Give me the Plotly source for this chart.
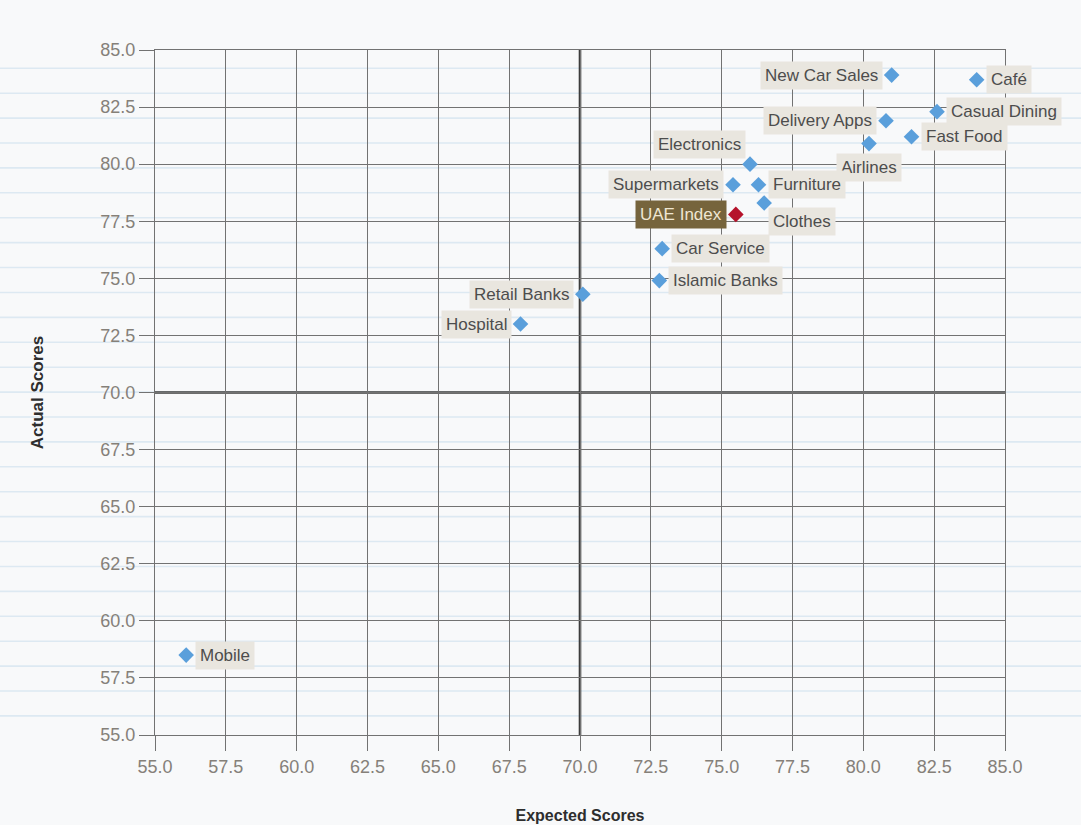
import plotly.graph_objects as go

# Customer satisfaction by sector: expected vs. actual scores
segments = ["New Car Sales", "Café", "Delivery Apps", "Casual Dining", "Airlines",
            "Fast Food", "Electronics", "Supermarkets", "Furniture", "UAE Index",
            "Clothes", "Car Service", "Islamic Banks", "Retail Banks", "Hospital",
            "Mobile"]
expected = [81.0, 84.0, 80.8, 82.6, 80.2, 81.7, 76.0, 75.4, 76.3, 75.5,
            76.5, 72.9, 72.8, 70.1, 67.9, 56.1]
actual = [83.9, 83.7, 81.9, 82.3, 80.9, 81.2, 80.0, 79.1, 79.1, 77.8,
          78.3, 76.3, 74.9, 74.3, 73.0, 58.5]

axis_ticks = [55.0, 57.5, 60.0, 62.5, 65.0, 67.5, 70.0, 72.5, 75.0, 77.5, 80.0, 82.5, 85.0]
divider = 70.0
highlight = "UAE Index"

# where each label sits relative to its marker
placement = {
    "New Car Sales": "left", "Café": "right", "Delivery Apps": "left",
    "Casual Dining": "right", "Airlines": "below", "Fast Food": "right",
    "Electronics": "upleft", "Supermarkets": "left", "Furniture": "right",
    "UAE Index": "left", "Clothes": "downright", "Car Service": "right",
    "Islamic Banks": "right", "Retail Banks": "left", "Hospital": "left",
    "Mobile": "right",
}

FONT = "Liberation Sans, Arial, sans-serif"
BLUE = "#5a9fdb"
RED = "#b5122b"
GRID = "#727272"
TICK_TXT = "#858079"
LABEL_BG = "#e9e6df"
LABEL_TXT = "#4d4d4d"

fig = go.Figure()

others = [i for i, s in enumerate(segments) if s != highlight]
hi = [i for i, s in enumerate(segments) if s == highlight]

fig.add_trace(go.Scatter(
    x=[expected[i] for i in others], y=[actual[i] for i in others],
    mode="markers", text=[segments[i] for i in others],
    marker=dict(symbol="diamond", size=12, color=BLUE),
    hovertemplate="%{text}<br>Expected: %{x}<br>Actual: %{y}<extra></extra>",
    showlegend=False, cliponaxis=False,
))
fig.add_trace(go.Scatter(
    x=[expected[i] for i in hi], y=[actual[i] for i in hi],
    mode="markers", text=[segments[i] for i in hi],
    marker=dict(symbol="diamond", size=12, color=RED),
    hovertemplate="%{text}<br>Expected: %{x}<br>Actual: %{y}<extra></extra>",
    showlegend=False, cliponaxis=False,
))

anchors = {
    "left": dict(xanchor="right", yanchor="middle", xshift=-9, yshift=0),
    "right": dict(xanchor="left", yanchor="middle", xshift=9, yshift=0),
    "below": dict(xanchor="center", yanchor="top", xshift=0, yshift=-9),
    "upleft": dict(xanchor="right", yanchor="bottom", xshift=-4, yshift=5),
    "downright": dict(xanchor="left", yanchor="top", xshift=4, yshift=-4),
}

for s, x, y in zip(segments, expected, actual):
    is_hi = s == highlight
    fig.add_annotation(
        x=x, y=y, text=s, showarrow=False,
        font=dict(family=FONT, size=17, color="#efe6d2" if is_hi else LABEL_TXT),
        bgcolor="#76643c" if is_hi else LABEL_BG,
        borderpad=4,
        **anchors[placement[s]],
    )

# heavier divider lines through the 70 / 70 point
fig.add_shape(type="line", xref="x", yref="y", x0=divider, x1=divider,
              y0=axis_ticks[0], y1=axis_ticks[-1],
              line=dict(color="#3c3c3c", width=2.6), layer="below")
fig.add_shape(type="line", xref="x", yref="y", y0=divider, y1=divider,
              x0=axis_ticks[0], x1=axis_ticks[-1],
              line=dict(color="#3c3c3c", width=2.6), layer="below")

# faint ruled-paper background lines
for k in range(27):
    yp = 1 - (22 + 30 * k) / 825
    fig.add_shape(type="line", xref="paper", yref="paper",
                  x0=-0.2, x1=1.2, y0=yp, y1=yp,
                  line=dict(color="#dde9f2", width=1.6), layer="below")

axis_common = dict(
    range=[axis_ticks[0], axis_ticks[-1]],
    tickvals=axis_ticks, tickformat=".1f",
    showgrid=True, gridcolor=GRID, gridwidth=1.3,
    showline=True, linecolor=GRID, linewidth=1.3, mirror=True,
    ticks="outside", ticklen=15, tickcolor=GRID, tickwidth=1.3,
    zeroline=False, automargin=False,
    tickfont=dict(family=FONT, size=18, color=TICK_TXT),
)

fig.update_xaxes(
    **axis_common,
    title=dict(text="<b>Expected Scores</b>", standoff=34,
               font=dict(family=FONT, size=16, color="#2e2e2e")),
)
fig.update_yaxes(
    **axis_common,
    title=dict(text="<b>Actual Scores</b>", standoff=52,
               font=dict(family=FONT, size=17, color="#2e2e2e")),
)

fig.update_layout(
    width=1081, height=825,
    margin=dict(l=155, r=76, t=50, b=90),
    paper_bgcolor="#f8f9fa",
    plot_bgcolor="rgba(0,0,0,0)",
    font=dict(family=FONT),
    showlegend=False,
)

fig.write_html("out.html")
